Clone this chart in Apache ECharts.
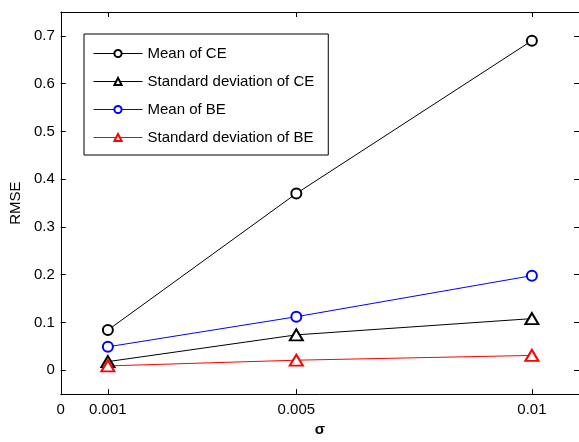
<!DOCTYPE html>
<html>
<head>
<meta charset="utf-8">
<script src="https://cdn.jsdelivr.net/npm/echarts@6/dist/echarts.min.js"></script>
<style>html,body{margin:0;padding:0;background:#fff}#c{width:579px;height:442px}</style>
</head>
<body>
<div id="c"></div>
<script>
// Data
var sigma = [0.001, 0.005, 0.01];
var meanCE = [0.084, 0.370, 0.690];
var stdCE = [0.018, 0.074, 0.108];
var meanBE = [0.049, 0.112, 0.198];
var stdBE = [0.009, 0.021, 0.031];
var seriesNames = ['Mean of CE', 'Standard deviation of CE', 'Mean of BE', 'Standard deviation of BE'];
var xTickValues = [0, 0.001, 0.005, 0.01];
var xTickLabels = ['0', '0.001', '0.005', '0.01'];
var yTickValues = [0, 0.1, 0.2, 0.3, 0.4, 0.5, 0.6, 0.7];
var yTickLabels = ['0', '0.1', '0.2', '0.3', '0.4', '0.5', '0.6', '0.7'];

function pairs(ys) { return sigma.map(function (x, i) { return [x, ys[i]]; }); }
function labelFor(vals, labs) {
  return function (v) {
    for (var i = 0; i < vals.length; i++) if (Math.abs(vals[i] - v) < 1e-9) return labs[i];
    return '';
  };
}

var font = 'Liberation Sans, Arial, sans-serif';
var axisLine = { show: true, onZero: false, lineStyle: { color: '#000', width: 1 } };

var chart = echarts.init(document.getElementById('c'));
function mkSeries(name, data, color, symbol, size, dash) {
  return {
    name: name, type: 'line', data: pairs(data), xAxisIndex: 0, yAxisIndex: 0,
    symbol: symbol, symbolSize: size, showAllSymbol: true,
    lineStyle: { color: color, width: 1, type: dash },
    itemStyle: { color: color, borderColor: color, borderWidth: 1 },
    emphasis: { disabled: true }, animation: false
  };
}
chart.setOption({
  animation: false,
  grid: { left: 60, top: 12, width: 520, height: 390 },
  legend: {
    orient: 'vertical', left: 84, top: 34,
    padding: [12, 14, 10, 9],
    itemWidth: 49, itemHeight: 9, itemGap: 13,
    backgroundColor: '#fff', borderColor: '#000', borderWidth: 1,
    lineStyle: { width: 1 },
    itemStyle: { borderWidth: 1 },
    textStyle: { fontFamily: font, fontSize: 15, color: '#000' },
    data: seriesNames, selectedMode: false
  },
  xAxis: [{
    type: 'value', min: 0, max: 0.011, position: 'bottom',
    name: 'σ', nameLocation: 'middle', nameGap: 24,
    nameTextStyle: { fontFamily: font, fontSize: 15, fontWeight: 'bold', color: '#000' },
    axisLine: axisLine,
    axisTick: { show: true, inside: true, length: 5, customValues: [0.001, 0.005, 0.01], lineStyle: { color: '#000' } },
    axisLabel: { show: true, margin: 8, customValues: xTickValues, formatter: labelFor(xTickValues, xTickLabels), fontFamily: font, fontSize: 15, color: '#000' },
    splitLine: { show: false }
  }, {
    type: 'value', min: 0, max: 0.011, position: 'top',
    axisLine: axisLine,
    axisTick: { show: true, inside: true, length: 5, customValues: [0.001, 0.005, 0.01], lineStyle: { color: '#000' } },
    axisLabel: { show: false },
    splitLine: { show: false }
  }],
  yAxis: [{
    type: 'value', min: -0.05, max: 0.75, position: 'left',
    name: 'RMSE', nameLocation: 'middle', nameGap: 37, nameRotate: 90,
    nameTextStyle: { fontFamily: font, fontSize: 15, color: '#000' },
    axisLine: axisLine,
    axisTick: { show: true, inside: true, length: 5, customValues: yTickValues, lineStyle: { color: '#000' } },
    axisLabel: { show: true, margin: 6, customValues: yTickValues, formatter: labelFor(yTickValues, yTickLabels), fontFamily: font, fontSize: 15, color: '#000' },
    splitLine: { show: false }
  }, {
    type: 'value', min: -0.05, max: 0.75, position: 'right',
    axisLine: axisLine,
    axisTick: { show: true, inside: true, length: 5, customValues: yTickValues, lineStyle: { color: '#000' } },
    axisLabel: { show: false },
    splitLine: { show: false }
  }],
  series: [
    mkSeries(seriesNames[0], meanCE, '#000000', 'emptyCircle', 10, 'solid'),
    mkSeries(seriesNames[1], stdCE, '#000000', 'emptyTriangle', [13, 11], 'solid'),
    mkSeries(seriesNames[2], meanBE, '#0000ff', 'emptyCircle', 10, 'solid'),
    mkSeries(seriesNames[3], stdBE, '#ff0000', 'emptyTriangle', [13, 11], 'solid')
  ]
});
</script>
</body>
</html>
